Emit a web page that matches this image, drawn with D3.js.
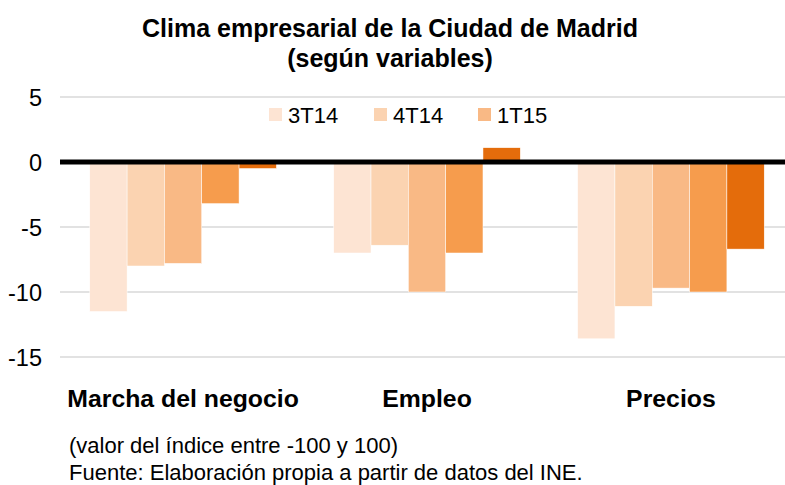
<!DOCTYPE html>
<html>
<head>
<meta charset="utf-8">
<script src="https://cdn.jsdelivr.net/npm/d3@7"></script>
<style>
  body { margin: 0; background: #fff; }
  text { font-family: "Liberation Sans", Arial, sans-serif; fill: #000; }
</style>
</head>
<body>
<svg id="chart"></svg>
<script>
const categories = ["Marcha del negocio", "Empleo", "Precios"];
const seriesNames = ["3T14", "4T14", "1T15", "2T15", "3T15"];
const legendNames = ["3T14", "4T14", "1T15"];
// values per series, one per category
const s3T14 = [-11.5, -7.0, -13.6];
const s4T14 = [-8.0, -6.4, -11.1];
const s1T15 = [-7.8, -10.0, -9.7];
const s2T15 = [-3.2, -7.0, -10.0];
const s3T15 = [-0.5, 1.1, -6.7];
const seriesValues = [s3T14, s4T14, s1T15, s2T15, s3T15];
const yTicks = [5, 0, -5, -10, -15];

const width = 785;
const height = 485;
const colors = ["#FDE4D3", "#FBD3B1", "#F9B985", "#F69C4D", "#E46C0B"];

const svg = d3.select("#chart").attr("width", width).attr("height", height);

const x = d3.scaleBand().domain(categories).range([61, 793]).paddingInner(0.235).paddingOuter(0.118);
const x1 = d3.scaleBand().domain(seriesNames).range([0, x.bandwidth()]);
const y = d3.scaleLinear().domain([-15, 5]).range([357, 97]);

// gridlines
svg.append("g")
    .selectAll("line")
    .data(yTicks.filter(d => d !== 0))
    .enter().append("line")
    .attr("x1", 60).attr("x2", width)
    .attr("y1", d => y(d)).attr("y2", d => y(d))
    .attr("stroke", "#D9D9D9").attr("stroke-width", 1.5);

// y labels
svg.append("g")
    .selectAll("text")
    .data(yTicks)
    .enter().append("text")
    .attr("x", 42)
    .attr("y", d => y(d) + 8.5)
    .attr("text-anchor", "end")
    .style("font-size", "23.5px")
    .text(d => d);

// bars
const groups = svg.append("g")
    .selectAll("g")
    .data(seriesNames)
    .enter().append("g")
    .attr("fill", (d, i) => colors[i]);

groups.selectAll("rect")
    .data((s, i) => categories.map((c, j) => ({cat: c, series: s, value: seriesValues[i][j]})))
    .enter().append("rect")
    .attr("x", d => x(d.cat) + x1(d.series))
    .attr("width", x1.bandwidth())
    .attr("y", d => y(Math.max(0, d.value)))
    .attr("height", d => Math.abs(y(d.value) - y(0)))
    .attr("stroke", "#fff").attr("stroke-width", 0.5);

// zero line
svg.append("line")
    .attr("x1", 60).attr("x2", width)
    .attr("y1", y(0)).attr("y2", y(0))
    .attr("stroke", "#000").attr("stroke-width", 5);

// category labels
svg.append("g")
    .selectAll("text")
    .data(categories)
    .enter().append("text")
    .attr("x", d => x(d) + x.bandwidth() / 2)
    .attr("y", 407)
    .attr("text-anchor", "middle")
    .style("font-size", "24.8px")
    .style("font-weight", "bold")
    .text(d => d);

// legend
const legendX = [269, 374, 478];
const legend = svg.append("g")
    .selectAll("g")
    .data(legendNames)
    .enter().append("g")
    .attr("transform", (d, i) => `translate(${legendX[i]}, 108)`);
legend.append("rect")
    .attr("width", 13).attr("height", 13)
    .attr("fill", (d, i) => colors[i]);
legend.append("text")
    .attr("x", 19).attr("y", 15)
    .style("font-size", "22px")
    .text(d => d);

// title
svg.append("text")
    .attr("x", 390).attr("y", 37)
    .attr("text-anchor", "middle")
    .style("font-size", "25px").style("font-weight", "bold")
    .text("Clima empresarial de la Ciudad de Madrid");
svg.append("text")
    .attr("x", 390).attr("y", 67)
    .attr("text-anchor", "middle")
    .style("font-size", "25px").style("font-weight", "bold")
    .text("(según variables)");

// notes
svg.append("text")
    .attr("x", 69).attr("y", 453)
    .style("font-size", "22px")
    .text("(valor del índice entre -100 y 100)");
svg.append("text")
    .attr("x", 69).attr("y", 480)
    .style("font-size", "22px")
    .text("Fuente: Elaboración propia a partir de datos del INE.");
</script>
</body>
</html>
